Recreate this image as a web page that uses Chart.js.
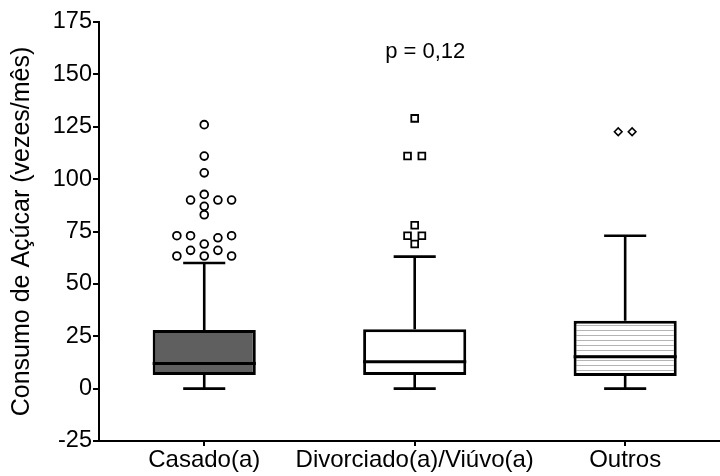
<!DOCTYPE html>
<html>
<head>
<meta charset="utf-8">
<script src="https://cdn.jsdelivr.net/npm/chart.js@4"></script>
<style>
html,body{margin:0;padding:0;overflow:hidden;background:#fff;}
#wrap{width:737px;height:476px;}
</style>
</head>
<body>
<div id="wrap"><canvas id="c" width="737" height="476"></canvas></div>
<script>
const categories = ['Casado(a)', 'Divorciado(a)/Viúvo(a)', 'Outros'];
const yTicks = [-25, 0, 25, 50, 75, 100, 125, 150, 175];
const q1 = [6.5, 6.5, 6];
const medians = [12, 12.8, 15.2];
const q3 = [28, 28.4, 32.4];
const whiskerLow = [0, 0, 0];
const whiskerHigh = [60, 63, 73];
// outliers: [x offset within category, value]
const outliersCasado = [[0,126],[0,111],[0,103],[0,92.7],[-0.065,90],[0.065,90],[0.13,90],[0,87],[0,83],
  [-0.13,73],[-0.065,73],[0.065,72],[0.13,73],[0,69],[-0.065,66],[0.065,66],[-0.13,63.3],[0,63.3],[0.13,63.3]];
const outliersDivorciado = [[0,129],[-0.034,111],[0.034,111],[0,78],[-0.034,73],[0.034,73],[0,69]];
const outliersOutros = [[-0.033,122.6],[0.033,122.6]];
const pLabel = 'p = 0,12';

const FONT = '"Liberation Sans", Arial, sans-serif';

// stripe pattern for third box
const pc = document.createElement('canvas');
pc.width = 4; pc.height = 5;
const pctx = pc.getContext('2d');
pctx.fillStyle = '#ffffff'; pctx.fillRect(0,0,4,5);
pctx.fillStyle = '#b4b4b4'; pctx.fillRect(0,0,4,1);
const stripe = pctx.createPattern(pc, 'repeat');

const half = 0.245, cap = 0.1;
const medianPts = [], whiskerPts = [];
categories.forEach((c, i) => {
  medianPts.push({x: i - half, y: medians[i]}, {x: i + half, y: medians[i]}, {x: i, y: null});
  whiskerPts.push({x: i, y: q3[i]}, {x: i, y: whiskerHigh[i]}, {x: i, y: null});
  whiskerPts.push({x: i - cap, y: whiskerHigh[i]}, {x: i + cap, y: whiskerHigh[i]}, {x: i, y: null});
  whiskerPts.push({x: i, y: q1[i]}, {x: i, y: whiskerLow[i]}, {x: i, y: null});
  whiskerPts.push({x: i - cap, y: whiskerLow[i]}, {x: i + cap, y: whiskerLow[i]}, {x: i, y: null});
});
const toPts = (arr, i) => arr.map(p => ({x: i + p[0], y: p[1]}));

const pPlugin = {
  id: 'pText',
  afterDatasetsDraw(chart) {
    const ctx = chart.ctx;
    const x = chart.scales.x2.getPixelForValue(1.05);
    const y = chart.scales.y.getPixelForValue(160.5);
    ctx.save();
    ctx.font = '22px ' + FONT;
    ctx.fillStyle = '#000';
    ctx.textAlign = 'center';
    ctx.textBaseline = 'middle';
    ctx.fillText(pLabel, x, y);
    ctx.restore();
  }
};

new Chart(document.getElementById('c'), {
  type: 'bar',
  data: {
    labels: categories,
    datasets: [
      {
        type: 'bar', xAxisID: 'x', yAxisID: 'y', order: 3,
        data: categories.map((c, i) => [q1[i], q3[i]]),
        backgroundColor: ['#5f5f5f', '#ffffff', stripe],
        borderColor: '#000', borderWidth: 3, borderSkipped: false,
        barPercentage: 0.49, categoryPercentage: 1, grouped: false
      },
      {
        type: 'line', xAxisID: 'x2', yAxisID: 'y', order: 1,
        data: medianPts, borderColor: '#000', borderWidth: 3,
        pointRadius: 0, spanGaps: false, fill: false
      },
      {
        type: 'line', xAxisID: 'x2', yAxisID: 'y', order: 4,
        data: whiskerPts, borderColor: '#000', borderWidth: 2.6,
        pointRadius: 0, spanGaps: false, fill: false
      },
      {
        type: 'scatter', xAxisID: 'x2', yAxisID: 'y', order: 0,
        data: toPts(outliersCasado, 0), pointStyle: 'circle', pointRadius: 3.9,
        pointBorderWidth: 1.8, pointBorderColor: '#000', pointBackgroundColor: '#fff'
      },
      {
        type: 'scatter', xAxisID: 'x2', yAxisID: 'y', order: 0,
        data: toPts(outliersDivorciado, 1), pointStyle: 'rect', pointRadius: 4.8,
        pointBorderWidth: 1.8, pointBorderColor: '#000', pointBackgroundColor: '#fff'
      },
      {
        type: 'scatter', xAxisID: 'x2', yAxisID: 'y', order: 0,
        data: toPts(outliersOutros, 2), pointStyle: 'rectRot', pointRadius: 3.8,
        pointBorderWidth: 1.6, pointBorderColor: '#000', pointBackgroundColor: '#fff'
      }
    ]
  },
  options: {
    responsive: false,
    animation: false,
    events: [],
    layout: {padding: {top: 22, left: 0, right: 0, bottom: 0}},
    plugins: {legend: {display: false}, tooltip: {enabled: false}},
    scales: {
      x: {
        type: 'category', offset: true,
        grid: {display: true, drawOnChartArea: false, drawTicks: true, tickLength: 5, offset: false, color: '#000', lineWidth: 2},
        border: {display: true, color: '#000', width: 2},
        ticks: {color: '#000', font: {family: FONT, size: 24}, padding: 0, maxRotation: 0, autoSkip: false},
        afterFit(s) { s.height = 35; }
      },
      x2: {
        type: 'linear', display: false, min: -0.5, max: 2.5, offset: false,
        grid: {offset: false}
      },
      y: {
        min: -25, max: 175,
        afterBuildTicks(s) { s.ticks = yTicks.map(v => ({value: v})); },
        grid: {display: true, drawOnChartArea: false, drawTicks: true, tickLength: 6, color: '#000', lineWidth: 2},
        border: {display: true, color: '#000', width: 2},
        ticks: {color: '#000', font: {family: FONT, size: 23.5}, padding: 1},
        title: {display: true, text: 'Consumo de Açúcar (vezes/mês)', color: '#000',
          font: {family: FONT, size: 25}, padding: {top: 7, bottom: 0}},
        afterFit(s) { s.width = 99; }
      }
    }
  },
  plugins: [pPlugin]
});
</script>
</body>
</html>
